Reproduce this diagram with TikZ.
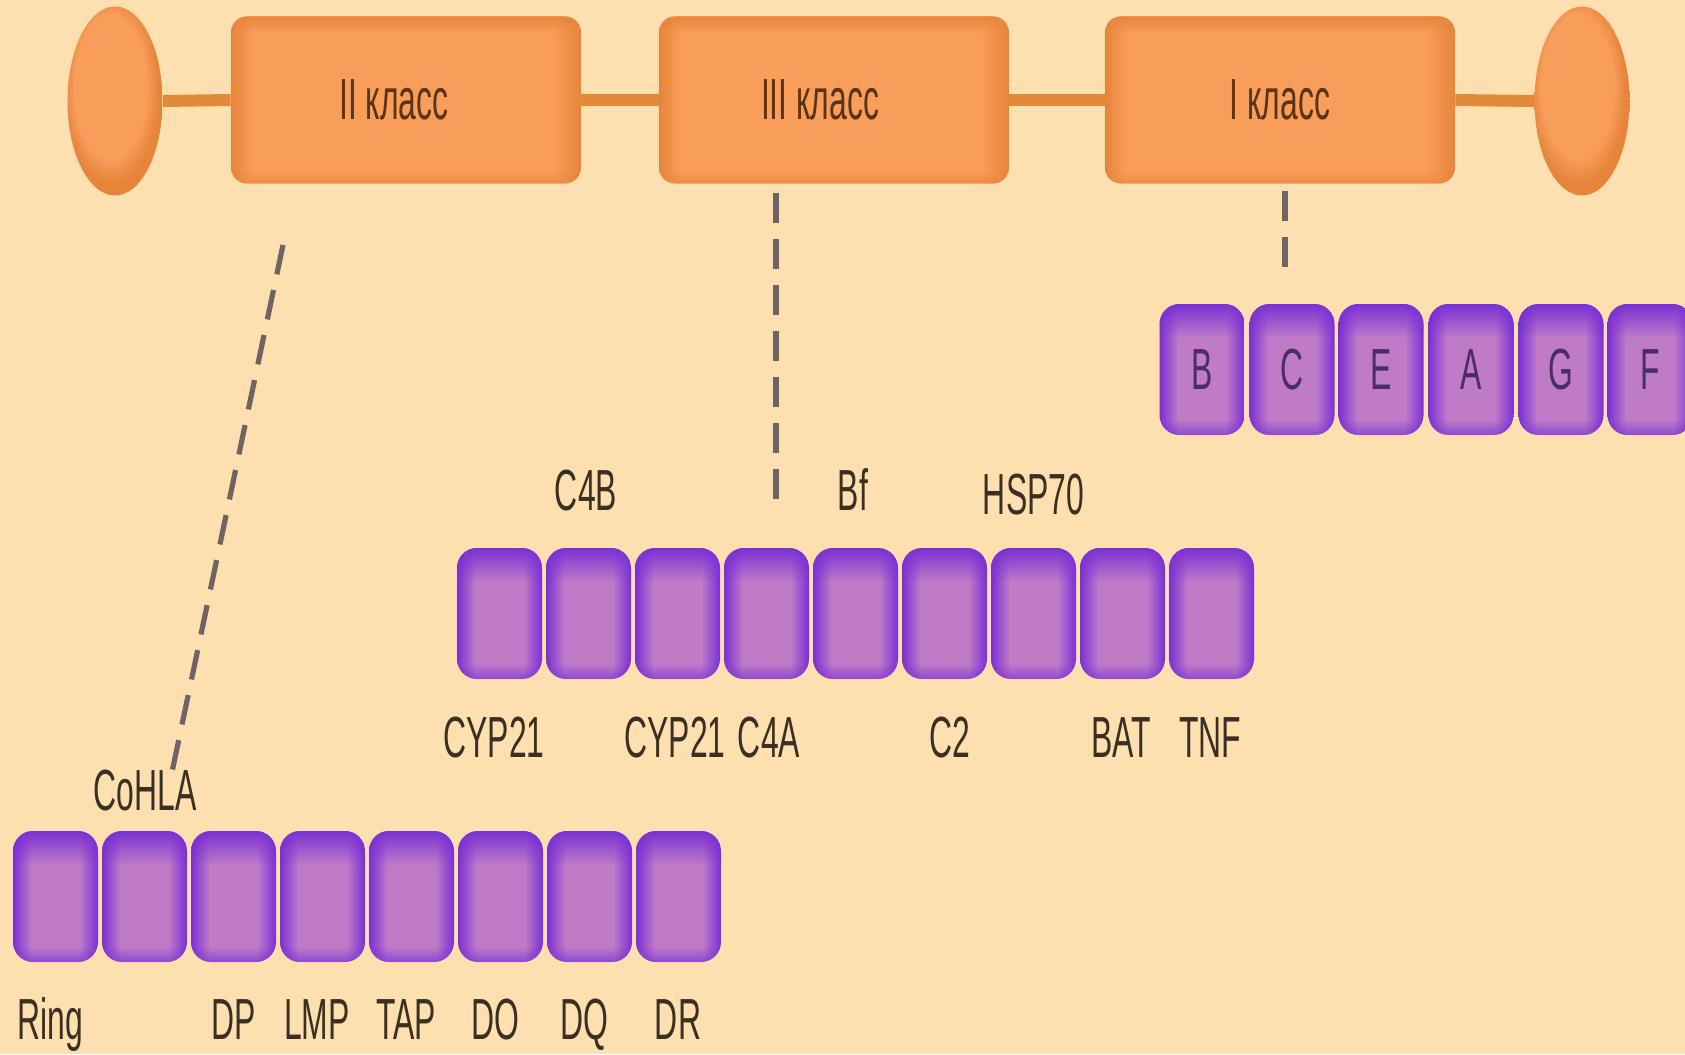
\documentclass[tikz,border=0pt]{standalone}
\usepackage{fontspec}
\newfontfamily\condfont[FakeStretch=0.55]{Liberation Sans}
\usetikzlibrary{shapes.geometric,fadings}

\definecolor{bg}{HTML}{FDDFB0}
\definecolor{pdark}{HTML}{7A30D4}
\definecolor{pmid}{HTML}{C07BC8}
\definecolor{oface}{HTML}{F99D5A}
\definecolor{oedge}{HTML}{E6843A}
\definecolor{barc}{HTML}{E08A3A}
\definecolor{dashc}{HTML}{6E6464}
\definecolor{txt}{HTML}{3A3022}
\definecolor{ctxt}{HTML}{5A3418}
\definecolor{ptxt}{HTML}{4A2C66}

\pgfdeclarehorizontalshading{pboxh}{100bp}{color(0bp)=(pdark); color(25bp)=(pdark); color(36bp)=(pmid); color(64bp)=(pmid); color(75bp)=(pdark); color(100bp)=(pdark)}
\pgfdeclareverticalshading{ptopsh}{100bp}{color(0bp)=(pgftransparent!30); color(25bp)=(pgftransparent!30); color(31bp)=(pgftransparent!100); color(62bp)=(pgftransparent!100); color(75bp)=(pgftransparent!0); color(100bp)=(pgftransparent!0)}
\pgfdeclarefading{ptopfade}{\pgfuseshading{ptopsh}}

\pgfdeclarehorizontalshading{oboxh}{100bp}{color(0bp)=(oedge); color(25bp)=(oedge); color(28bp)=(oface); color(71bp)=(oface); color(75bp)=(oedge); color(100bp)=(oedge)}
\pgfdeclareverticalshading{otopsh}{100bp}{color(0bp)=(pgftransparent!40); color(25bp)=(pgftransparent!40); color(29bp)=(pgftransparent!100); color(70bp)=(pgftransparent!100); color(75bp)=(pgftransparent!10); color(100bp)=(pgftransparent!10)}
\pgfdeclarefading{otopfade}{\pgfuseshading{otopsh}}

\pgfdeclareradialshading{oell}{\pgfpoint{-4bp}{6bp}}{color(0bp)=(oface); color(19bp)=(oface); color(25bp)=(oedge); color(50bp)=(oedge)}

\tikzset{
  pbox/.style={rectangle, rounded corners=10pt, minimum width=42.5pt, minimum height=65.5pt,
    inner sep=0pt, shade, shading=pboxh, text=ptxt,
    font=\condfont\fontsize{29}{30}\selectfont,
    path picture={\fill[pdark, path fading=ptopfade] (path picture bounding box.south west) rectangle (path picture bounding box.north east);}},
  obox/.style={rectangle, rounded corners=8pt, minimum width=175pt, minimum height=83.5pt,
    inner sep=0pt, shade, shading=oboxh, text=ctxt,
    font=\condfont\fontsize{29}{30}\selectfont,
    path picture={\fill[oedge, path fading=otopfade] (path picture bounding box.south west) rectangle (path picture bounding box.north east);}},
  oell/.style={ellipse, minimum width=47.5pt, minimum height=94.5pt, inner sep=0pt, shade, shading=oell},
  lab/.style={anchor=base, inner sep=0pt, text=txt, font=\condfont\fontsize{29}{30}\selectfont},
  barline/.style={line width=6pt, draw=barc},
  dashline/.style={line width=2.6pt, draw=dashc, dash pattern=on 15pt off 8pt}
}

\begin{document}
\begin{tikzpicture}[x=0.5pt,y=-0.5pt]
\fill[bg] (0,0) rectangle (1685,1054);
\useasboundingbox (0,0) rectangle (1685,1054);

% top chromosome
\node[oell] (eL) at (115,101) {};
\node[oell] (eR) at (1582,101) {};
\node[obox] (c2) at (406,100) {II класс\hspace*{12pt}};
\node[obox] (c3) at (834,100) {III класс\hspace*{14pt}};
\node[obox] (c1) at (1280,100) {I класс};
\draw[barline] (eL.east) -- (c2.west);
\draw[barline] (c2.east) -- (c3.west);
\draw[barline] (c3.east) -- (c1.west);
\draw[barline] (c1.east) -- (eR.west);

% class I row
\foreach \n/\x/\t in {1/1202/B,2/1292/C,3/1381/E,4/1471/A,5/1561/G,6/1650/F}
  \node[pbox] (r1b\n) at (\x,369.5) {\t};

% class III row
\foreach \n/\x in {1/499.5,2/588.5,3/677.5,4/766.5,5/855.5,6/944.5,7/1033.5,8/1122.5,9/1211.5}
  \node[pbox] (r3b\n) at (\x,613.5) {};

% class II row
\foreach \n/\x in {1/55.5,2/144.5,3/233.5,4/322.5,5/411.5,6/500.5,7/589.5,8/678.5}
  \node[pbox] (r2b\n) at (\x,896.5) {};

% class III labels
\node[lab] (lC4B) at (586,510) {C4B};
\node[lab] (lBf) at (853,510) {Bf};
\node[lab] (lHSP) at (1033.5,514) {HSP70};
\node[lab] (lCYPa) at (494,757) {CYP21};
\node[lab] (lCYPb) at (675,757) {CYP21};
\node[lab] (lC4A) at (769,757) {C4A};
\node[lab] (lC2) at (950,757) {C2};
\node[lab] (lBAT) at (1121,757) {BAT};
\node[lab] (lTNF) at (1210,757) {TNF};

% class II labels
\node[lab] (lCo) at (145,810) {CoHLA};
\node[lab] (lRing) at (50,1039) {Ring};
\node[lab] (lDP) at (234,1039) {DP};
\node[lab] (lLMP) at (317,1039) {LMP};
\node[lab] (lTAP) at (406,1039) {TAP};
\node[lab] (lDO) at (495,1039) {DO};
\node[lab] (lDQ) at (584,1039) {DQ};
\node[lab] (lDR) at (678,1039) {DR};

% dashed connectors
\coordinate (d2a) at (283,245);
\coordinate (d2b) at (172,772);
\coordinate (d3a) at (776,193);
\coordinate (d3b) at (776,508);
\coordinate (d1a) at (1285,191);
\coordinate (d1b) at (1285,269);
\draw[dashline] (d2a) -- (d2b);
\draw[dashline] (d3a) -- (d3b);
\draw[dashline] (d1a) -- (d1b);
\end{tikzpicture}
\end{document}
